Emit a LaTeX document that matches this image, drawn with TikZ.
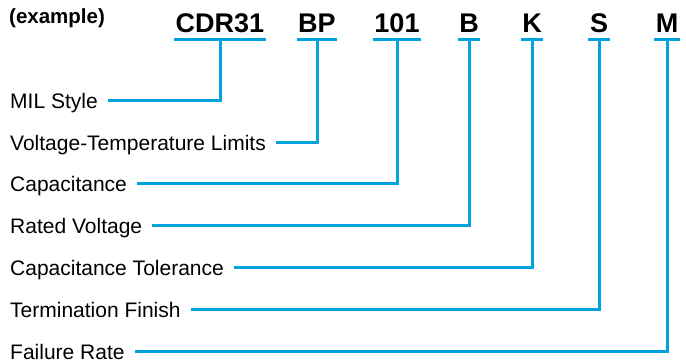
\documentclass[tikz,border=0pt]{standalone}
\usepackage{fontspec}
\setmainfont{Liberation Sans}
\definecolor{lineblue}{HTML}{00A3E0}
\tikzset{
  code/.style={font=\fontsize{27}{27}\selectfont\bfseries, anchor=south,
    inner xsep=1.5pt, inner ysep=7pt, text depth=0pt},
  field/.style={font=\fontsize{21}{21}\selectfont, anchor=west,
    inner sep=0pt, text height=15pt, text depth=0pt},
  lead/.style={draw=lineblue, line width=3pt}
}

\begin{document}
\begin{tikzpicture}[x=1pt,y=-1pt]
  \useasboundingbox (0,0) rectangle (686,363);

  %%%%% CODE %%%%%
  \node[font=\fontsize{20.5}{20.5}\selectfont\bfseries, anchor=west, inner sep=0pt] (ex) at (9,18) {(example)};

  \node[code] (c1) at (220,40) {CDR31};
  \node[code] (c2) at (317,40) {BP};
  \node[code] (c3) at (397,40) {101};
  \node[code] (c4) at (469,40) {B};
  \node[code] (c5) at (532,40) {K};
  \node[code] (c6) at (599,40) {S};
  \node[code] (c7) at (667,40) {M};

  \draw[lead] (c1.south west) -- (c1.south east);
  \draw[lead] (c2.south west) -- (c2.south east);
  \draw[lead] (c3.south west) -- (c3.south east);
  \draw[lead] (c4.south west) -- (c4.south east);
  \draw[lead] (c5.south west) -- (c5.south east);
  \draw[lead] (c6.south west) -- (c6.south east);
  \draw[lead] (c7.south west) -- (c7.south east);

  %%%%% FIELDS %%%%%
  \node[field] (f1) at (10,101) {MIL Style};
  \node[field] (f2) at (10,143) {Voltage-Temperature Limits};
  \node[field] (f3) at (10,184) {Capacitance};
  \node[field] (f4) at (10,226) {Rated Voltage};
  \node[field] (f5) at (10,268) {Capacitance Tolerance};
  \node[field] (f6) at (10,310) {Termination Finish};
  \node[field] (f7) at (10,352) {Failure Rate};

  \draw[lead] ([xshift=10pt]f1.east) -| (c1.south);
  \draw[lead] ([xshift=10pt]f2.east) -| (c2.south);
  \draw[lead] ([xshift=10pt]f3.east) -| (c3.south);
  \draw[lead] ([xshift=10pt]f4.east) -| (c4.south);
  \draw[lead] ([xshift=10pt]f5.east) -| (c5.south);
  \draw[lead] ([xshift=10pt]f6.east) -| (c6.south);
  \draw[lead] ([xshift=10pt]f7.east) -| (c7.south);
\end{tikzpicture}
\end{document}
